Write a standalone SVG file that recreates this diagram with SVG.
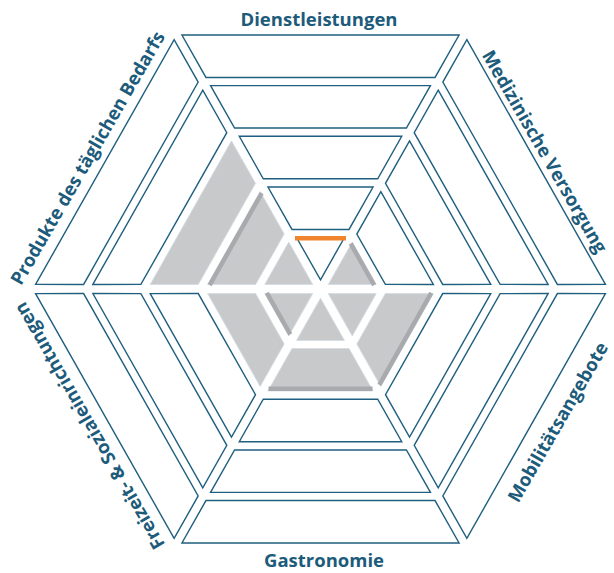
<svg xmlns="http://www.w3.org/2000/svg" xmlns:xlink="http://www.w3.org/1999/xlink" width="614" height="573" viewBox="0 0 614 573">
<style>
.band{fill:#ffffff;stroke:#1f5f7f;stroke-width:1.4;stroke-linejoin:miter}
.grey{fill:#c8c9cb;stroke:#d2dce3;stroke-width:0.8}
.strip{stroke:#a9aaae;stroke-width:4.4;fill:none}
.mark{stroke:#f0852d;stroke-width:4.5;fill:none}
.label{font-family:"Open Sans","Liberation Sans",sans-serif;font-weight:700;font-size:18.5px;fill:#1d5b7b;text-anchor:middle}
</style>
<defs>
<polygon id="b0" points="-23.96,-50.5 23.96,-50.5 0,-9"/>
<polygon id="b1" points="-52.54,-100 52.54,-100 28.52,-58.4 -28.52,-58.4"/>
<polygon id="b2" points="-81.23,-149.7 81.23,-149.7 57.22,-108.1 -57.22,-108.1"/>
<polygon id="b3" points="-109.93,-199.4 109.93,-199.4 85.91,-157.8 -85.91,-157.8"/>
<polygon id="b4" points="-138.56,-249 138.56,-249 114.55,-207.4 -114.55,-207.4"/>
<line id="s0" x1="-23.5" y1="-48.4" x2="23.5" y2="-48.4"/>
<line id="s1" x1="-52" y1="-97.9" x2="52" y2="-97.9"/>
</defs>

<g id="sector-dienstleistungen">
<g transform="translate(320.5,289) scale(1,1.02)">
<use xlink:href="#b0" class="band"/>
<use xlink:href="#b1" class="band"/>
<use xlink:href="#b2" class="band"/>
<use xlink:href="#b3" class="band"/>
<use xlink:href="#b4" class="band"/>
<line class="mark" x1="-25.5" y1="-49.7" x2="25.5" y2="-49.7"/>
</g>
<text class="label" x="319" y="26">Dienstleistungen</text>
</g>

<g id="sector-medizinische-versorgung">
<g transform="translate(320.5,289) scale(1,1.02) rotate(60)">
<use xlink:href="#b0" class="grey"/>
<use xlink:href="#s0" class="strip"/>
<use xlink:href="#b1" class="band"/>
<use xlink:href="#b2" class="band"/>
<use xlink:href="#b3" class="band"/>
<use xlink:href="#b4" class="band"/>
</g>
<text class="label" transform="translate(539,154.8) rotate(60)">Medizinische Versorgung</text>
</g>

<g id="sector-mobilitaetsangebote">
<g transform="translate(320.5,289) scale(1,1.02) rotate(120)">
<use xlink:href="#b0" class="grey"/>
<use xlink:href="#b1" class="grey"/>
<use xlink:href="#s1" class="strip"/>
<use xlink:href="#b2" class="band"/>
<use xlink:href="#b3" class="band"/>
<use xlink:href="#b4" class="band"/>
</g>
<text class="label" transform="translate(563.5,425.4) rotate(-60)">Mobilitätsangebote</text>
</g>

<g id="sector-gastronomie">
<g transform="translate(320.5,289) scale(1,1.02) rotate(180)">
<use xlink:href="#b0" class="grey"/>
<use xlink:href="#b1" class="grey"/>
<use xlink:href="#s1" class="strip"/>
<use xlink:href="#b2" class="band"/>
<use xlink:href="#b3" class="band"/>
<use xlink:href="#b4" class="band"/>
</g>
<text class="label" x="324" y="566.5">Gastronomie</text>
</g>

<g id="sector-freizeit-sozialeinrichtungen">
<g transform="translate(320.5,289) scale(1,1.02) rotate(240)">
<use xlink:href="#b0" class="grey"/>
<use xlink:href="#s0" class="strip"/>
<use xlink:href="#b1" class="grey"/>
<use xlink:href="#b2" class="band"/>
<use xlink:href="#b3" class="band"/>
<use xlink:href="#b4" class="band"/>
</g>
<text class="label" transform="translate(95,422.6) rotate(-120)">Freizeit- &amp; Sozialeinrichtungen</text>
</g>

<g id="sector-produkte-des-taeglichen-bedarfs">
<g transform="translate(320.5,289) scale(1,1.02) rotate(300)">
<use xlink:href="#b0" class="grey"/>
<use xlink:href="#b1" class="grey"/>
<use xlink:href="#s1" class="strip"/>
<use xlink:href="#b2" class="grey"/>
<use xlink:href="#b3" class="band"/>
<use xlink:href="#b4" class="band"/>
</g>
<text class="label" transform="translate(93.3,161.3) rotate(-60)">Produkte des täglichen Bedarfs</text>
</g>
</svg>
